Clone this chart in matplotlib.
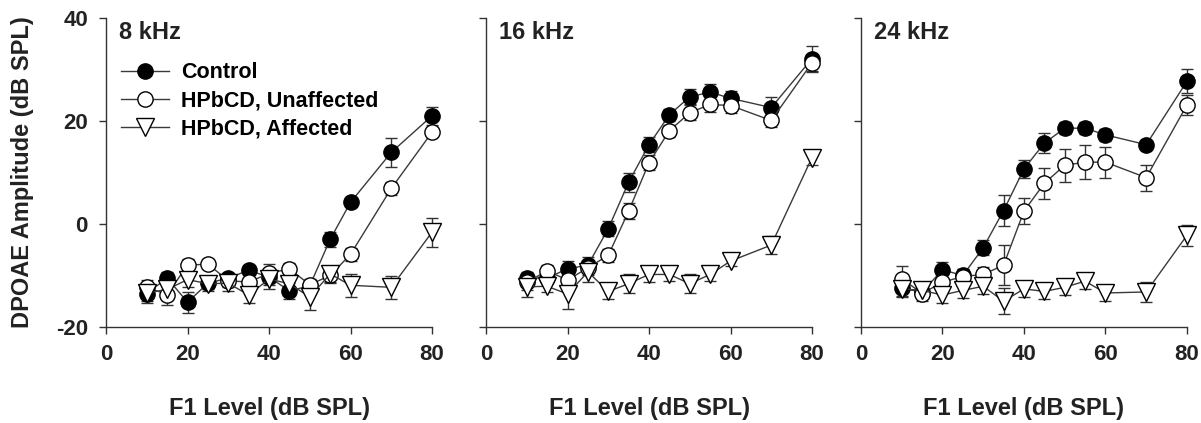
import numpy as np
import matplotlib.pyplot as plt

plt.rcParams['font.family'] = ['Liberation Sans', 'DejaVu Sans']
plt.rcParams['font.weight'] = 'bold'
plt.rcParams['axes.unicode_minus'] = False

# F1 levels (dB SPL)
levels = [10, 15, 20, 25, 30, 35, 40, 45, 50, 55, 60, 70, 80]
panel_titles = ['8 kHz', '16 kHz', '24 kHz']
group_names = ['Control', 'HPbCD, Unaffected', 'HPbCD, Affected']

# 8 kHz
ctrl_8k = [-13.5, -10.5, -15.2, -11.5, -10.5, -9.0, -10.3, -13.0, -12.0, -3.0, 4.2, 13.9, 21.0]
ctrl_8k_err = [1.5, 1.2, 2.0, 1.2, 1.0, 1.0, 1.5, 1.5, 1.2, 1.5, 1.0, 2.8, 1.7]
unaf_8k = [-12.3, -13.7, -8.0, -7.8, -11.0, -11.3, -9.6, -8.7, -11.8, -10.0, -5.9, 6.9, 17.8]
unaf_8k_err = [1.5, 2.0, 1.2, 1.0, 1.2, 1.5, 1.8, 1.2, 1.2, 1.5, 1.2, 1.2, 1.0]
aff_8k = [-13.4, -12.7, -10.8, -11.6, -11.5, -13.8, -10.7, -11.6, -14.2, -9.7, -11.9, -12.3, -1.6]
aff_8k_err = [2.0, 2.0, 1.5, 1.5, 1.5, 1.5, 2.0, 1.5, 2.5, 1.5, 2.2, 2.2, 2.8]

# 16 kHz
ctrl_16k = [-10.5, -10.5, -8.7, -8.0, -0.9, 8.1, 15.4, 21.2, 24.7, 25.6, 24.4, 22.6, 32.1]
ctrl_16k_err = [1.2, 1.2, 1.5, 1.5, 1.5, 1.8, 1.5, 1.2, 1.5, 1.5, 1.5, 2.0, 2.5]
unaf_16k = [-11.3, -9.1, -10.9, -8.5, -6.1, 2.5, 11.9, 18.1, 21.6, 23.2, 23.0, 20.1, 31.3]
unaf_16k_err = [1.5, 1.2, 1.5, 1.5, 1.2, 1.5, 1.5, 1.2, 1.5, 1.5, 1.5, 1.2, 1.5]
aff_16k = [-12.2, -12.1, -13.6, -9.3, -13.1, -11.6, -9.8, -9.8, -11.6, -9.8, -7.2, -4.1, 12.9]
aff_16k_err = [2.0, 1.2, 3.0, 2.0, 1.5, 1.8, 1.5, 1.2, 1.8, 1.2, 1.0, 1.8, 1.5]

# 24 kHz
ctrl_24k = [-12.5, -13.2, -8.9, -10.0, -4.6, 2.6, 10.7, 15.7, 18.6, 18.6, 17.3, 15.4, 27.7]
ctrl_24k_err = [1.5, 1.2, 1.5, 1.2, 1.5, 3.0, 1.8, 2.0, 1.2, 1.2, 1.2, 1.0, 2.3]
unaf_24k = [-10.6, -13.5, -11.3, -10.2, -9.8, -8.0, 2.5, 7.9, 11.4, 12.0, 12.0, 9.0, 23.1]
unaf_24k_err = [2.5, 1.5, 1.5, 1.5, 1.5, 3.9, 2.5, 3.0, 3.2, 3.3, 3.0, 2.5, 2.0]
aff_24k = [-12.6, -12.9, -13.8, -12.9, -12.1, -15.0, -12.6, -13.1, -12.3, -11.1, -13.4, -13.2, -2.2]
aff_24k_err = [1.5, 1.5, 1.5, 1.5, 1.5, 2.5, 1.5, 1.5, 1.5, 1.5, 1.5, 2.0, 2.0]

panels = [
    [(ctrl_8k, ctrl_8k_err), (unaf_8k, unaf_8k_err), (aff_8k, aff_8k_err)],
    [(ctrl_16k, ctrl_16k_err), (unaf_16k, unaf_16k_err), (aff_16k, aff_16k_err)],
    [(ctrl_24k, ctrl_24k_err), (unaf_24k, unaf_24k_err), (aff_24k, aff_24k_err)],
]

styles = [
    dict(marker='o', mfc='black', ms=11),
    dict(marker='o', mfc='white', ms=11),
    dict(marker='v', mfc='white', ms=12.5),
]

fig = plt.figure(figsize=(12.01, 4.23), dpi=100)
lefts = [0.0883, 0.4047, 0.7169]
axes = [fig.add_axes([l, 0.227, 0.2714, 0.7305]) for l in lefts]

for i, ax in enumerate(axes):
    for j, (vals, errs) in enumerate(panels[i]):
        ax.errorbar(levels, vals, yerr=errs, fmt='none', ecolor='#333333',
                    elinewidth=1.0, capsize=4, capthick=1.0, zorder=2, clip_on=False)
        ax.plot(levels, vals, color='#3a3a3a', lw=1.0, mec='black', mew=1.0,
                label=group_names[j], zorder=3 + j * 0.1, clip_on=False, **styles[j])

    ax.set_xlim(0, 80)
    ax.set_ylim(-20, 40)
    ax.set_xticks([0, 20, 40, 60, 80])
    ax.set_yticks([-20, 0, 20, 40])
    for s in ['top', 'right']:
        ax.spines[s].set_visible(False)
    for s in ['left', 'bottom']:
        ax.spines[s].set_color('#333333')
        ax.spines[s].set_linewidth(1.0)
    ax.tick_params(axis='both', direction='out', length=5, width=1.0, color='#333333',
                   labelsize=16, colors='#222222')
    ax.tick_params(axis='x', pad=7)
    ax.tick_params(axis='y', pad=8)
    ax.set_xlabel('F1 Level (dB SPL)', fontsize=17, fontweight='bold', labelpad=23,
                  color='#222222')
    ax.text(0.04, 0.99, panel_titles[i], transform=ax.transAxes, ha='left', va='top',
            fontsize=17, fontweight='bold', color='#222222')
    if i > 0:
        ax.set_yticklabels([])

axes[0].set_ylabel('DPOAE Amplitude (dB SPL)', fontsize=17, fontweight='bold',
                   labelpad=16, color='#222222')
axes[0].legend(loc='upper left', bbox_to_anchor=(0.02, 0.885), frameon=False,
               handlelength=2.2, handletextpad=0.6, labelspacing=0.34,
               borderaxespad=0, prop={'weight': 'bold', 'size': 15.5})

fig.savefig('out.png', dpi=100)
